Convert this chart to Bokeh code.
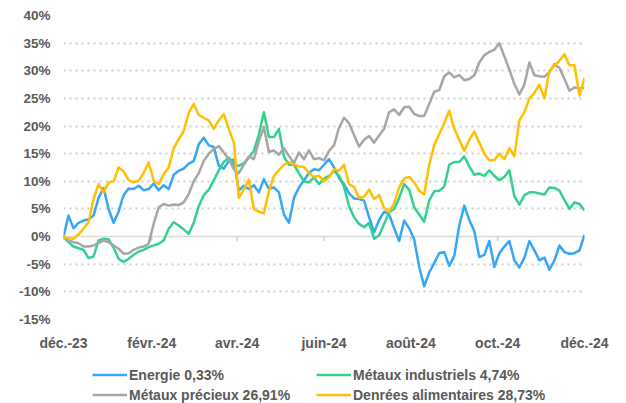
import pandas as pd
from bokeh.plotting import figure
from bokeh.layouts import column
from bokeh.models import Range1d, FixedTicker, Span, Legend, LegendItem, ColumnDataSource
from bokeh.embed import file_html
from bokeh.resources import INLINE

# ---- data (percent change since start) ----
energie = [0, 3.8, 1.5, 2.5, 2.9, 3.1, 3.8, 7.0, 8.8, 5.0, 2.5, 4.5, 7.5, 8.7, 8.6, 9.2, 8.4, 8.6, 9.6, 8.4,
           9.3, 8.6, 11.2, 11.9, 12.3, 13.2, 13.7, 16.7, 17.9, 16.5, 16.2, 12.8, 12.3, 13.7, 13.9, 8.3, 9.2, 8.6, 9.3, 8.0,
           10.4, 8.6, 8.9, 8.0, 4.0, 2.5, 7.0, 8.9, 10.2, 11.5, 12.2, 12.0, 13.0, 14.0, 12.5, 10.6, 9.5, 7.8, 6.9, 6.8,
           6.5, 3.5, 0.8, 3.0, 4.5, 4.0, 1.5, -0.8, 2.9, 1.5, -0.5, -5.5, -9.0, -6.5, -4.8, -3.0, -2.8, -5.3, -3.5, 2.0,
           5.6, 3.0, 1.0, -3.7, -3.3, -0.8, -5.5, -3.0, -1.8, -0.8, -4.3, -5.6, -3.8, -0.8, -2.5, -4.3, -3.8, -6.0, -4.3, -1.6,
           -2.8, -3.1, -3.0, -2.5, 0.33]
metaux_ind = [0, -1.0, -1.8, -2.1, -2.4, -3.9, -3.6, -0.7, -0.4, -0.5, -2.0, -4.0, -4.6, -4.0, -3.3, -2.7, -2.4, -1.9, -1.6, -1.3,
              -0.7, 1.4, 2.6, 2.0, 1.3, 0.5, 2.5, 5.5, 7.5, 8.5, 10.2, 12.0, 13.5, 14.3, 13.0, 12.8, 13.3, 14.3, 15.5, 18.5,
              22.5, 18.0, 18.0, 19.5, 14.5, 13.0, 13.0, 11.5, 10.0, 9.8, 10.7, 9.5, 10.5, 11.0, 11.9, 11.0, 9.0, 5.5, 3.5, 2.3,
              1.7, 2.5, -0.4, 0.2, 2.3, 4.4, 5.0, 7.0, 9.5, 8.5, 5.3, 4.0, 2.7, 6.5, 8.2, 8.3, 9.0, 13.0, 13.5, 13.5,
              14.5, 12.7, 11.2, 11.4, 11.0, 12.0, 11.0, 10.2, 10.8, 12.0, 7.3, 5.8, 7.5, 8.0, 8.0, 7.8, 7.6, 8.9, 8.8, 8.3,
              6.6, 5.0, 6.2, 5.9, 4.74]
metaux_prec = [0, -0.7, -1.0, -1.2, -1.8, -1.8, -1.6, -1.2, -0.7, -1.0, -1.6, -2.2, -3.1, -3.0, -2.4, -2.0, -1.8, -1.3, 2.3, 5.3,
               5.9, 5.6, 5.8, 5.7, 6.2, 7.7, 10.0, 11.5, 13.7, 15.0, 15.8, 16.4, 15.2, 14.0, 12.2, 11.5, 13.0, 14.5, 14.0, 17.3,
               19.8, 15.3, 15.6, 14.8, 16.0, 14.6, 13.3, 15.2, 14.0, 15.6, 14.0, 14.2, 13.8, 15.5, 16.5, 19.7, 21.5, 20.5, 18.4, 16.3,
               17.5, 18.2, 17.0, 18.3, 19.5, 22.5, 23.0, 22.0, 23.4, 23.5, 22.2, 21.8, 21.8, 24.0, 26.2, 26.5, 29.0, 29.7, 28.8, 29.2,
               28.3, 28.5, 29.2, 31.5, 32.8, 33.4, 33.8, 35.0, 32.6, 30.2, 27.6, 25.7, 27.5, 31.5, 29.2, 29.0, 28.9, 29.8, 31.2, 30.5,
               28.5, 26.4, 27.0, 26.8, 26.91]
denrees = [0, -0.3, -0.4, 0.4, 1.4, 2.6, 6.8, 9.5, 8.0, 9.8, 10.0, 12.5, 11.8, 10.2, 9.8, 10.1, 11.5, 13.4, 10.1, 9.5,
           11.3, 12.5, 16.0, 17.6, 19.1, 22.4, 24.0, 22.0, 21.5, 21.0, 19.5, 21.0, 22.2, 19.5, 17.0, 7.0, 8.5, 10.3, 5.0, 4.5,
           4.2, 8.2, 11.0, 12.0, 13.0, 13.5, 13.0, 12.7, 12.6, 11.5, 10.8, 11.0, 10.0, 10.7, 12.2, 11.9, 13.0, 9.5, 9.0, 7.0,
           7.2, 8.5, 6.8, 7.5, 5.2, 4.5, 6.0, 8.9, 10.5, 10.8, 9.8, 8.3, 7.6, 13.0, 16.5, 18.5, 20.5, 22.8, 19.5, 17.5,
           15.5, 17.5, 19.0, 17.0, 15.0, 13.8, 13.8, 15.0, 14.0, 16.0, 14.5, 21.0, 22.5, 25.0, 26.0, 27.5, 25.0, 30.0, 30.9, 31.8,
           33.0, 31.0, 31.0, 25.5, 28.73]

series_names = ["Energie 0,33%", "Métaux industriels 4,74%", "Métaux précieux 26,91%", "Denrées alimentaires 28,73%"]
series_colors = ["#35A7F5", "#33D18E", "#A6A6A6", "#FFC000"]

x_tick_dates = ["2023-12-01", "2024-02-01", "2024-04-01", "2024-06-01", "2024-08-01", "2024-10-01", "2024-12-01"]
x_tick_labels = ["déc.-23", "févr.-24", "avr.-24", "juin-24", "août-24", "oct.-24", "déc.-24"]
y_ticks = [-15, -10, -5, 0, 5, 10, 15, 20, 25, 30, 35, 40]

dates = pd.date_range(x_tick_dates[0], x_tick_dates[-1], periods=len(energie))
src = ColumnDataSource(dict(date=dates, e=energie, mi=metaux_ind, mp=metaux_prec, d=denrees))
cols = ["e", "mi", "mp", "d"]

start = pd.Timestamp(x_tick_dates[0])
end = pd.Timestamp(x_tick_dates[-1])

GREY_TXT = "#595959"
FONT = "Liberation Sans"

p = figure(width=626, height=355, x_axis_type="datetime",
           x_range=Range1d(start, end), y_range=Range1d(y_ticks[0], y_ticks[-1]),
           output_backend="svg", toolbar_location=None,
           min_border_left=63, min_border_right=42, min_border_top=15, min_border_bottom=36)
p.outline_line_color = None
p.background_fill_color = "white"
p.border_fill_color = "white"

# axes
tick_ms = [pd.Timestamp(d).value / 1e6 for d in x_tick_dates]
p.xaxis.ticker = FixedTicker(ticks=tick_ms)
p.xaxis.major_label_overrides = {t: l for t, l in zip(tick_ms, x_tick_labels)}
p.xaxis.major_label_text_font_size = "14px"
p.xaxis.major_label_standoff = 15

yticker = FixedTicker(ticks=[t for t in y_ticks if t != 0])
p.yaxis.ticker = FixedTicker(ticks=y_ticks)
p.yaxis.major_label_overrides = {t: f"{t}%" for t in y_ticks}
p.yaxis.major_label_text_font_size = "13.5px"
p.yaxis.major_label_standoff = 13

for ax in (p.xaxis, p.yaxis):
    ax.axis_line_color = None
    ax.major_tick_line_color = None
    ax.minor_tick_line_color = None
    ax.major_tick_out = 0
    ax.major_label_text_font = FONT
    ax.major_label_text_font_style = "bold"
    ax.major_label_text_color = GREY_TXT

# dotted horizontal gridlines
p.xgrid.visible = False
p.ygrid.ticker = yticker
p.ygrid.grid_line_color = "#CFCFCF"
p.ygrid.grid_line_width = 2
p.ygrid.grid_line_dash = "dotted"

# zero line and its small ticks
p.add_layout(Span(location=0, dimension="width", line_color="#D9D9D9", line_width=1.5, level="underlay"))
tick_x = [pd.Timestamp(d) for d in x_tick_dates]
p.segment(x0=tick_x, y0=[0] * len(tick_x), x1=tick_x, y1=[-0.8] * len(tick_x),
          line_color="#D0D0D0", line_width=1.5)

for col, color in zip(cols, series_colors):
    p.line(x="date", y=col, source=src, line_color=color, line_width=2.5, line_join="round")

# ---- legend strip below the chart (its frame is aligned with the chart's frame) ----
pl = figure(width=626, height=48, x_range=p.x_range, y_range=Range1d(1000, 1001),
            x_axis_location=None, y_axis_location=None,
            output_backend="svg", toolbar_location=None,
            min_border_left=63, min_border_right=42, min_border_top=0, min_border_bottom=0)
pl.outline_line_color = None
pl.grid.visible = False

# same series, outside this strip's visible range: only their legend glyphs show
leg_renderers = [pl.line(x="date", y=c, source=src, line_color=col, line_width=2.5)
                 for c, col in zip(cols, series_colors)]

def make_legend(idx, x):
    items = [LegendItem(label=series_names[i], renderers=[leg_renderers[i]]) for i in idx]
    return Legend(items=items, location=(x, 0), orientation="vertical",
                  border_line_color=None, background_fill_alpha=0,
                  padding=0, margin=0, spacing=3,
                  label_height=17, glyph_height=17, glyph_width=35, label_standoff=2,
                  label_text_font=FONT, label_text_font_style="bold",
                  label_text_font_size="14px", label_text_color=GREY_TXT)

pl.add_layout(make_legend([0, 2], 29), "center")
pl.add_layout(make_legend([1, 3], 253), "center")

layout = column(p, pl, spacing=0)
open("out.html", "w").write(file_html(layout, INLINE))
